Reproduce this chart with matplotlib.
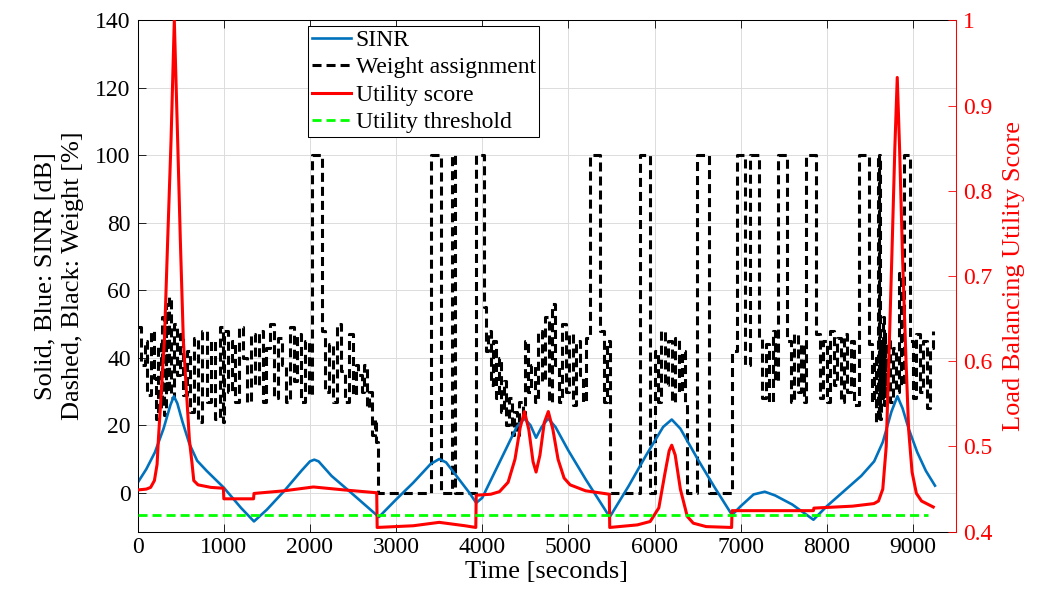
import matplotlib
matplotlib.use("Agg")
import matplotlib.pyplot as plt
from matplotlib.ticker import FixedLocator, FuncFormatter

#---------------------------------------------------------------------------------------------------
# Data

# SINR [dB] (left axis)
sinr_t = [0, 100, 200, 300, 380, 420, 460, 520, 600, 690, 800, 1000, 1200, 1350, 1500, 1700,
          1900, 2000, 2050, 2100, 2250, 2500, 2800, 3000, 3200, 3400, 3500, 3580, 3700, 3850,
          3930, 4000, 4200, 4400, 4490, 4560, 4625, 4690, 4765, 4850, 5000, 5200, 5480, 5700,
          5900, 6100, 6200, 6300, 6500, 6700, 6900, 7000, 7150, 7280, 7400, 7600, 7845, 8000,
          8200, 8400, 8550, 8650, 8750, 8820, 8880, 8950, 9050, 9150, 9256]
sinr_v = [3.0, 7, 12, 19, 26, 28.6, 26.5, 21, 14.5, 9.5, 6.5, 1.5, -4.5, -8.5, -5, 0.5,
          6.5, 9.3, 9.8, 9.3, 5, -0.5, -7.2, -2, 3, 8.5, 10, 9, 5, 0,
          -3, -1.5, 9, 19.5, 22, 20, 16.3, 19.5, 22, 19.5, 12.5, 4, -7.2, 2,
          11, 19.5, 21.7, 19, 10, 1.5, -6.6, -4, -0.5, 0.3, -0.8, -3.5, -8, -4,
          0.5, 5, 9.3, 15, 24, 28.6, 25, 19, 12, 6.5, 2.1]

# Weight assignment [%] (left axis, held between samples)
weight_t = [0, 40, 80, 110, 150, 185, 215, 240, 265, 285, 305, 325, 345, 365, 390, 420, 455,
            490, 530, 570, 610, 650, 700, 750, 800, 850, 900, 950, 985,
            1000, 1045, 1090, 1135, 1180, 1225, 1270, 1315, 1360, 1405, 1450, 1495, 1540, 1585,
            1630, 1675, 1720, 1765, 1810, 1855, 1900, 1945, 1990, 2025, 2135, 2180, 2225, 2270,
            2315, 2360, 2405, 2450, 2495, 2540,
            2560, 2600, 2630, 2660, 2690, 2720, 2750, 2770, 2785,
            3400, 3520, 3650, 3685, 3925, 4020, 4040, 4070, 4100, 4130, 4160, 4190, 4220, 4250,
            4280, 4310, 4340, 4370, 4400, 4430, 4470, 4500, 4530, 4570, 4610, 4650, 4690, 4730,
            4770, 4810, 4850, 4890, 4930, 4970, 5010, 5050, 5090, 5130, 5170, 5210, 5250, 5370,
            5410, 5450, 5484,
            5826, 5942, 6010, 6040, 6080, 6120, 6160, 6200, 6240, 6280, 6320, 6350, 6376, 6492,
            6628, 6899, 6955, 7050, 7110,
            7210, 7250, 7290, 7330, 7370, 7400, 7430, 7540, 7580, 7620, 7660, 7700, 7730, 7764,
            7880, 7920, 7960, 8000, 8040, 8080, 8120, 8160, 8200, 8240, 8280, 8320, 8372, 8488,
            8520, 8545, 8570, 8600, 8605, 8610, 8616, 8630, 8640, 8650, 8660, 8670, 8680, 8700,
            8730, 8770, 8800, 8837, 8860, 8900, 8965, 9000, 9040, 9080, 9120, 9160, 9200, 9230]
weight_v = [49, 38, 45, 29, 48, 34, 22, 44, 25, 52, 23, 56, 30, 58, 28, 50, 35,
            47, 29, 42, 24, 46, 21, 48, 27, 45, 22, 49, 21,
            48, 30, 45, 27, 49, 40, 27, 47, 32, 48, 27, 43, 50, 28,
            46, 38, 27, 49, 33, 47, 27, 45, 29, 100, 48, 30, 44, 27,
            50, 36, 27, 47, 29, 38,
            35, 30, 38, 25, 30, 17, 22, 15, 0,
            100, 0, 100, 0, 100, 55, 42, 48, 32, 45, 28, 40, 24, 33,
            20, 28, 17, 24, 17, 27, 22, 45, 30, 38, 27, 48, 33, 52,
            27, 56, 38, 27, 50, 30, 47, 26, 45, 35, 27, 46, 100, 48,
            27, 45, 0,
            100, 0, 42, 27, 48, 32, 45, 27, 46, 30, 42, 27, 0, 100,
            0, 42, 100, 38, 100,
            46, 28, 44, 27, 48, 33, 100, 45, 27, 47, 30, 44, 27, 100,
            47, 28, 45, 27, 48, 32, 46, 27, 47, 30, 45, 26, 100, 44,
            27, 40, 21, 100, 22, 100, 22, 45, 28, 52, 26, 48, 30, 45,
            27, 43, 30, 65, 32, 100, 45, 28, 47, 30, 45, 25, 43, 48]

# Load balancing utility score (right axis)
util_t = [0, 100, 150, 194, 225, 240, 310, 348, 387, 425, 464, 495, 530, 600, 632, 651, 700,
          850, 995, 1000, 1345, 1350, 1700, 2040, 2400, 2775, 2780, 3200, 3500, 3800, 3925,
          3930, 4100, 4200, 4300, 4380, 4440, 4490, 4540, 4590, 4625, 4670, 4720, 4767, 4820,
          4880, 4950, 5020, 5200, 5475, 5480, 5800, 5950, 6050, 6120, 6170, 6200, 6240, 6300,
          6380, 6450, 6600, 6895, 6900, 7845, 7850, 8300, 8547, 8600, 8650, 8690, 8720, 8760,
          8790, 8818, 8845, 8880, 8920, 8950, 8990, 9040, 9100, 9236]
util_v = [0.449, 0.450, 0.452, 0.460, 0.479, 0.508, 0.624, 0.742, 0.859, 1.0, 0.859, 0.742,
          0.624, 0.508, 0.479, 0.460, 0.455, 0.452, 0.451, 0.4386, 0.4386, 0.4449, 0.448,
          0.4525, 0.449, 0.4457, 0.405, 0.407, 0.411, 0.407, 0.405, 0.4428, 0.444, 0.447,
          0.458, 0.485, 0.522, 0.541, 0.52, 0.482, 0.470, 0.49, 0.528, 0.541, 0.52, 0.485,
          0.463, 0.455, 0.448, 0.444, 0.405, 0.408, 0.412, 0.428, 0.468, 0.495, 0.5015, 0.49,
          0.45, 0.418, 0.41, 0.406, 0.405, 0.4247, 0.4247, 0.4277, 0.430, 0.433, 0.436, 0.45,
          0.5, 0.6, 0.74, 0.85, 0.933, 0.85, 0.72, 0.6, 0.52, 0.47, 0.445, 0.436, 0.429]

threshold = 0.42
threshold_t = [0, 9180]

#---------------------------------------------------------------------------------------------------
plt.rcParams['font.family'] = ['Liberation Serif', 'DejaVu Serif']
plt.rcParams['lines.scale_dashes'] = False
plt.rcParams['axes.linewidth'] = 0.75

fig = plt.figure(figsize=(10.56, 6.09), dpi=100)
ax = fig.add_axes([0.1304, 0.1269, 0.7749, 0.8397])

# black weights first so that SINR lies on top
ln_w, = ax.plot(weight_t, weight_v, color='black', lw=2.2, dashes=(6.5, 3.6),
                drawstyle='steps-post')
ln_s, = ax.plot(sinr_t, sinr_v, color='#0072BD', lw=1.9)

ax.set_xlim(0, 9500)
ax.set_ylim(-11.55, 140)
ax.set_xticks(range(0, 9001, 1000))
ax.set_yticks(range(0, 141, 20))
ax.grid(True, color='#dcdcdc', lw=0.7)
ax.set_axisbelow(True)
ax.tick_params(direction='in', length=5.5, width=0.6, labelsize=17, top=True, right=False)
ax.tick_params(axis='x', pad=4)
ax.tick_params(axis='y', pad=5)
ax.spines['right'].set_visible(False)
ax.set_xlabel('Time [seconds]', fontsize=19, labelpad=2)
ax.set_ylabel('Solid, Blue: SINR [dB]\nDashed, Black: Weight [%]', fontsize=19, labelpad=8,
              linespacing=1.28)

ax2 = ax.twinx()
ln_u, = ax2.plot(util_t, util_v, color='red', lw=2.2)
ln_th, = ax2.plot(threshold_t, [threshold, threshold], color=(0, 1, 0), lw=2,
                  dashes=(6.5, 3.6))
ax2.set_ylim(0.4, 1.0)
ax2.yaxis.set_major_locator(FixedLocator([0.4, 0.5, 0.6, 0.7, 0.8, 0.9, 1.0]))
ax2.yaxis.set_major_formatter(FuncFormatter(lambda v, p: '%g' % round(v, 2)))
ax2.tick_params(direction='in', length=5.5, width=0.6, labelsize=17, colors='red', pad=5)
ax2.spines['right'].set_color('red')
for s in ['left', 'top', 'bottom']:
    ax2.spines[s].set_visible(False)
ax2.set_ylabel('Load Balancing Utility Score', fontsize=19, color='red', labelpad=8)

leg = ax2.legend([ln_s, ln_w, ln_u, ln_th],
                 ['SINR', 'Weight assignment', 'Utility score', 'Utility threshold'],
                 loc='upper left', bbox_to_anchor=(0.2085, 0.989), borderaxespad=0,
                 fontsize=17, fancybox=False, framealpha=1, edgecolor='black',
                 handlelength=1.65, handletextpad=0.2, borderpad=0.15, labelspacing=0.25)
leg.get_frame().set_linewidth(0.75)

fig.savefig("out.png", dpi=100)
